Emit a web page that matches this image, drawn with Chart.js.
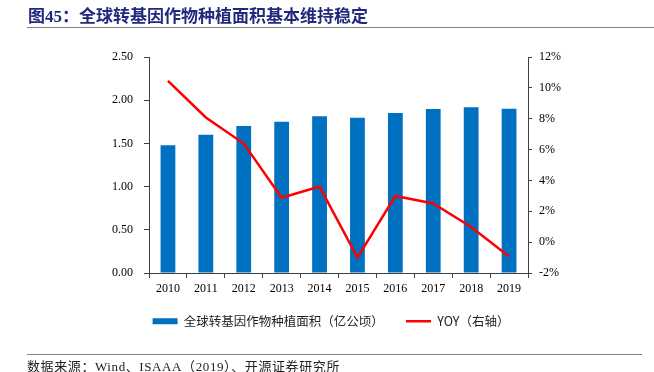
<!DOCTYPE html>
<html>
<head>
<meta charset="utf-8">
<script src="https://cdn.jsdelivr.net/npm/chart.js@4"></script>
<style>
  html, body { margin: 0; padding: 0; background: #fff; }
  #wrap { position: relative; width: 654px; height: 372px; overflow: hidden; }
  #chart { position: absolute; left: 0; top: 0; }
  .title {
    position: absolute; left: 28px; top: 2px;
    font-family: "Liberation Serif", "Noto Sans CJK SC", serif;
    font-weight: bold; font-size: 17px; color: #1f2a7c; white-space: nowrap;
  }
  .rule { position: absolute; height: 0; border-top: 1.5px solid #808080; }
  .source {
    position: absolute; left: 27px; top: 356px;
    font-family: "Liberation Serif", "Noto Sans CJK SC", serif;
    font-size: 13px; letter-spacing: 0.6px; color: #222; white-space: nowrap;
  }
</style>
</head>
<body>
<div id="wrap">
  <canvas id="chart" width="654" height="372"></canvas>
  <div class="title">图45：全球转基因作物种植面积基本维持稳定</div>
  <div class="rule" style="left:27px; width:627px; top:27px;"></div>
  <div class="rule" style="left:27px; width:615px; top:354px;"></div>
  <div class="source">数据来源：Wind、ISAAA（2019）、开源证券研究所</div>
</div>
<script>
const years = ['2010', '2011', '2012', '2013', '2014', '2015', '2016', '2017', '2018', '2019']
// 亿公顷
const plantedArea = [1.48, 1.60, 1.70, 1.75, 1.815, 1.797, 1.851, 1.899, 1.917, 1.90]
// YOY, %
const yoy = [10.45, 8.08, 6.39, 2.88, 3.60, -1.0, 2.99, 2.51, 0.98, -0.93]

// the ideographic space only widens the gap before the second legend item
const areaLabel = '全球转基因作物种植面积（亿公顷）\u3000'
const yoyLabel = 'YOY（右轴）'

const tickFont = { family: 'Liberation Serif', size: 12 }
const axisColor = '#404040'

document.addEventListener('DOMContentLoaded', function() {
  const el = document.getElementById('chart')

  new Chart(el, {
    type: 'bar',
    data: {
      labels: years,
      datasets: [{
        type: 'bar',
        label: areaLabel,
        data: plantedArea,
        yAxisID: 'y',
        backgroundColor: '#0070c0',
        barPercentage: 0.39,
        categoryPercentage: 1,
        pointStyle: 'rect',
        order: 1
      }, {
        type: 'line',
        label: yoyLabel,
        data: yoy,
        yAxisID: 'y1',
        borderColor: '#ff0000',
        backgroundColor: '#ff0000',
        borderWidth: 2.5,
        pointRadius: 0,
        tension: 0,
        pointStyle: 'line',
        order: 0
      }]
    },
    options: {
      responsive: false,
      animation: false,
      layout: { padding: { top: 57, left: 8, right: 0, bottom: 34.5 } },
      plugins: {
        tooltip: { enabled: false },
        legend: {
          position: 'bottom',
          labels: {
            usePointStyle: true,
            pointStyleWidth: 25,
            boxHeight: 6,
            padding: 16,
            color: '#222',
            font: { family: 'Noto Sans CJK SC', size: 12.5 },
            sort: function(a, b) { return a.datasetIndex - b.datasetIndex }
          }
        }
      },
      scales: {
        x: {
          offset: true,
          grid: { offset: true, drawOnChartArea: false, tickLength: 5, color: axisColor },
          border: { color: axisColor, width: 1 },
          ticks: { color: '#000', font: tickFont, padding: 4, maxRotation: 0 },
          afterFit: function(scale) { scale.height = 26 }
        },
        y: {
          position: 'left',
          min: 0,
          max: 2.5,
          grid: { drawOnChartArea: false, tickLength: 5, color: axisColor },
          border: { color: axisColor, width: 1 },
          ticks: {
            stepSize: 0.5,
            color: '#000',
            font: tickFont,
            padding: 11,
            callback: function(v) { return v.toFixed(2) }
          },
          afterFit: function(scale) { scale.width = 141 }
        },
        y1: {
          position: 'right',
          min: -2,
          max: 12,
          grid: { drawOnChartArea: false, tickLength: 4, color: axisColor },
          border: { color: axisColor, width: 1 },
          ticks: {
            stepSize: 2,
            color: '#000',
            font: tickFont,
            padding: 7,
            callback: function(v) { return v + '%' }
          },
          afterFit: function(scale) { scale.width = 126 }
        }
      }
    }
  })
})
</script>
</body>
</html>
